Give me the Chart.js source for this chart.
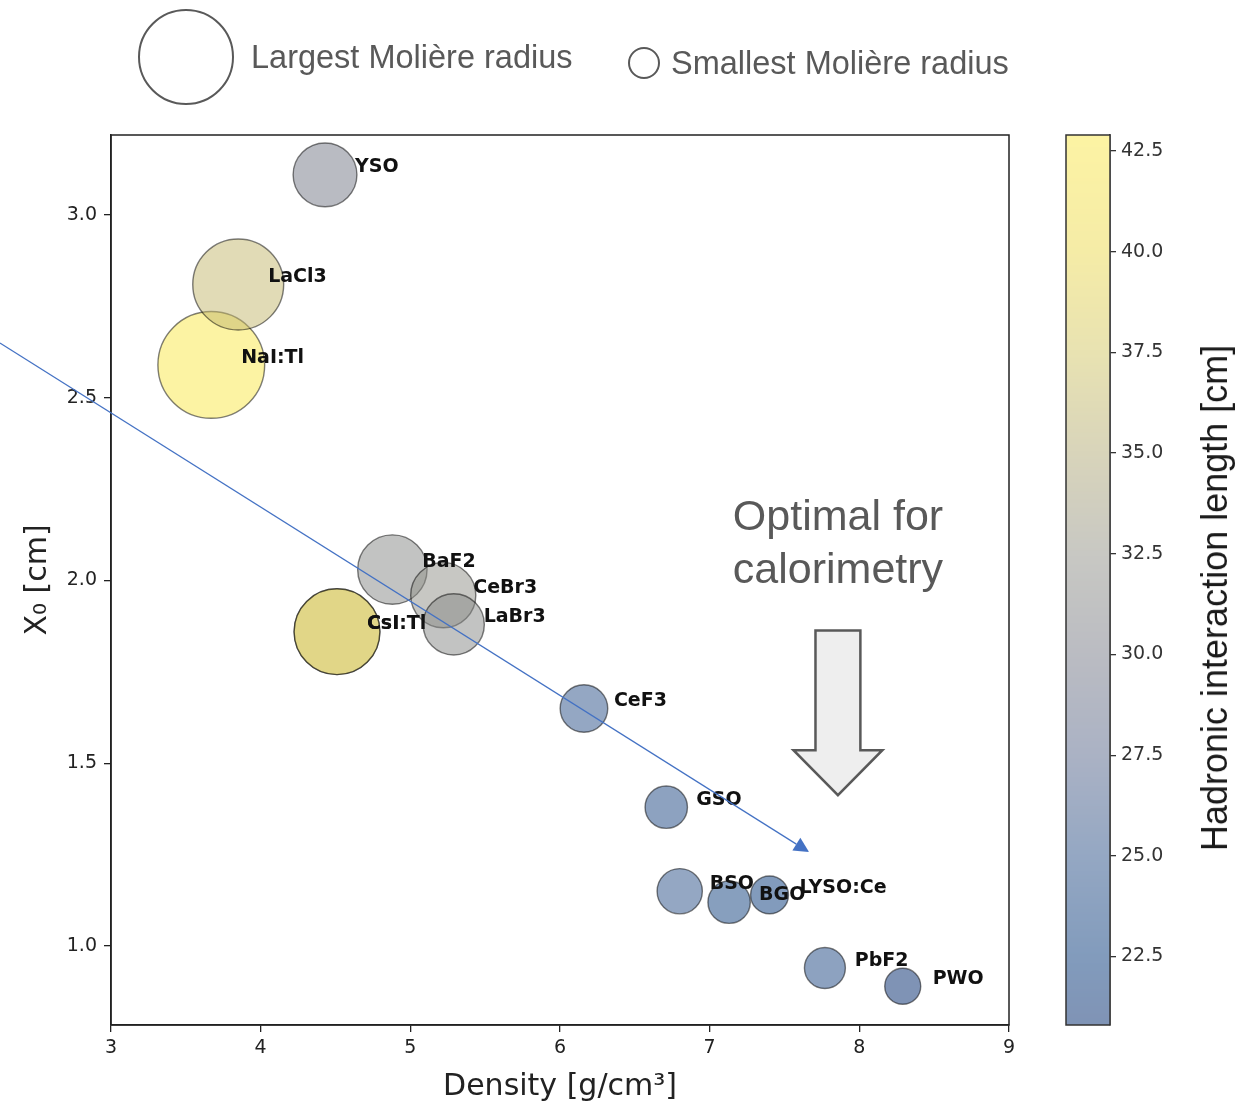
<!DOCTYPE html>
<html>
<head>
<meta charset="utf-8">
<title>Scintillator crystals: density vs radiation length</title>
<script src="https://cdn.jsdelivr.net/npm/chart.js@4.4.1/dist/chart.umd.min.js"></script>
<style>
  html, body { margin: 0; padding: 0; background: #fff; }
  #wrap { position: relative; width: 1248px; height: 1105px; overflow: hidden; }
  canvas { position: absolute; top: 0; }
  #main { left: 0; }
  #cbar { left: 1040px; }
  .note { position: absolute; font-family: "Liberation Sans", Arial, sans-serif; color: #595959; white-space: nowrap; }
  .ring { position: absolute; border: 2px solid #595959; border-radius: 50%; box-sizing: border-box; }
</style>
</head>
<body>
<div id="wrap">
  <canvas id="main" width="1248" height="1105" style="width:1248px;height:1105px"></canvas>
  <canvas id="cbar" width="208" height="1105" style="width:208px;height:1105px"></canvas>

  <!-- size key -->
  <div class="ring" style="left:138px;top:9px;width:96px;height:96px"></div>
  <div class="note" style="left:251px;top:41px;font-size:32.5px;line-height:32px">Largest Molière radius</div>
  <div class="ring" style="left:628px;top:47px;width:32px;height:32px"></div>
  <div class="note" style="left:671px;top:47px;font-size:32.5px;line-height:32px">Smallest Molière radius</div>

  <!-- callout -->
  <div class="note" style="left:688px;top:489px;width:300px;text-align:center;font-size:43px;line-height:53px">Optimal for<br>calorimetry</div>

  <!-- colour bar title -->
  <div class="note" style="left:1215px;top:598px;font-size:36px;line-height:36px;color:#1a1a1a;transform:translate(-50%,-50%) rotate(-90deg)">Hadronic interaction length [cm]</div>
</div>

<script>
// Crystal properties
const materials = ['NaI:Tl', 'LaCl3', 'YSO', 'CsI', 'CsI:Tl', 'BaF2', 'CeBr3', 'LaBr3', 'CeF3', 'GSO', 'BSO', 'BGO', 'LYSO:Ce', 'PbF2', 'PWO'];
const density   = [3.67, 3.85, 4.43, 4.51, 4.51, 4.88, 5.22, 5.29, 6.16, 6.71, 6.80, 7.13, 7.40, 7.77, 8.29];   // g/cm^3
const radLength = [2.59, 2.81, 3.11, 1.86, 1.86, 2.03, 1.96, 1.88, 1.65, 1.38, 1.15, 1.12, 1.14, 0.94, 0.89];   // X0 [cm]
const moliere   = [4.13, 3.71, 2.93, 3.57, 3.57, 3.10, 2.97, 2.85, 2.41, 2.23, 2.33, 2.23, 2.07, 2.18, 2.00];   // R_M [cm]
const hadLength = [42.9, 36.3, 29.8, 38.0, 38.0, 31.5, 32.3, 31.5, 25.0, 24.0, 25.0, 23.2, 22.5, 24.0, 20.8];   // lambda_I [cm]

// Axis ticks
const xTicks  = [3, 4, 5, 6, 7, 8, 9];
const yTicks  = [1.0, 1.5, 2.0, 2.5, 3.0];
const cbTicks = [22.5, 25.0, 27.5, 30.0, 32.5, 35.0, 37.5, 40.0, 42.5];

// Annotation geometry, in data units (Density, X0)
const trendArrow = { from: [2.258, 2.650], to: [7.664, 1.257] };
const blockArrow = { x: 7.857, top: 1.863, shoulder: 1.536, tip: 1.413, shaftHalf: 0.150, headHalf: 0.297 };

// Blue-grey-yellow colour map (position 0..1, opaque rgb); marks are drawn half transparent
const cmapPos = [0, 0.077, 0.19, 0.303, 0.416, 0.529, 0.643, 0.756, 0.869, 1];
const cmapRGB = [
  [0, 40, 108], [5, 56, 122], [42, 80, 135], [86, 101, 138], [118, 121, 133],
  [145, 145, 135], [178, 170, 118], [210, 198, 100], [236, 217, 78], [250, 232, 72]
];
const ALPHA = 0.5;
const cbMin = Math.min(...hadLength);
const cbMax = Math.max(...hadLength);

function cmap(t) {
  t = Math.max(0, Math.min(1, t));
  let k = 0;
  while (k < cmapPos.length - 2 && t > cmapPos[k + 1]) k++;
  const f = (t - cmapPos[k]) / (cmapPos[k + 1] - cmapPos[k]);
  return cmapRGB[k].map((c, j) => Math.round(c + f * (cmapRGB[k + 1][j] - c)));
}
function colourFor(v, a) {
  const [r, g, b] = cmap((v - cbMin) / (cbMax - cbMin));
  return `rgba(${r},${g},${b},${a})`;
}

const TEXT = '#222';

// crystal names beside each bubble
const crystalLabels = {
  id: 'crystalLabels',
  afterDatasetsDraw(chart) {
    const { ctx, scales: { x, y } } = chart;
    ctx.save();
    ctx.font = 'bold 19px "DejaVu Sans"';
    ctx.fillStyle = '#111';
    ctx.textAlign = 'left';
    ctx.textBaseline = 'middle';
    materials.forEach((m, i) => {
      ctx.fillText(m, x.getPixelForValue(density[i] + 0.2), y.getPixelForValue(radLength[i] + 0.02));
    });
    ctx.restore();
  }
};

// axes frame plus the overlaid arrows
const frameAndArrows = {
  id: 'frameAndArrows',
  afterDraw(chart) {
    const { ctx, chartArea: a, scales: { x, y } } = chart;
    ctx.save();
    ctx.strokeStyle = '#222';
    ctx.lineWidth = 1.5;
    ctx.strokeRect(a.left, a.top, a.right - a.left, a.bottom - a.top);

    // block arrow
    const cx = x.getPixelForValue(blockArrow.x);
    const sh = x.getPixelForValue(blockArrow.x + blockArrow.shaftHalf) - cx;
    const hh = x.getPixelForValue(blockArrow.x + blockArrow.headHalf) - cx;
    const yt = y.getPixelForValue(blockArrow.top);
    const ys = y.getPixelForValue(blockArrow.shoulder);
    const yp = y.getPixelForValue(blockArrow.tip);
    ctx.beginPath();
    ctx.moveTo(cx - sh, yt);
    ctx.lineTo(cx + sh, yt);
    ctx.lineTo(cx + sh, ys);
    ctx.lineTo(cx + hh, ys);
    ctx.lineTo(cx, yp);
    ctx.lineTo(cx - hh, ys);
    ctx.lineTo(cx - sh, ys);
    ctx.closePath();
    ctx.fillStyle = '#eeeeee';
    ctx.fill();
    ctx.strokeStyle = '#595959';
    ctx.lineWidth = 2.5;
    ctx.lineJoin = 'miter';
    ctx.stroke();

    // trend arrow
    const x0 = x.getPixelForValue(trendArrow.from[0]), y0 = y.getPixelForValue(trendArrow.from[1]);
    const x1 = x.getPixelForValue(trendArrow.to[0]),   y1 = y.getPixelForValue(trendArrow.to[1]);
    const ang = Math.atan2(y1 - y0, x1 - x0);
    const len = 15, half = 7.5;
    const bx = x1 - len * Math.cos(ang), by = y1 - len * Math.sin(ang);
    ctx.strokeStyle = '#4472C4';
    ctx.fillStyle = '#4472C4';
    ctx.lineWidth = 1.2;
    ctx.beginPath();
    ctx.moveTo(x0, y0);
    ctx.lineTo(bx, by);
    ctx.stroke();
    ctx.beginPath();
    ctx.moveTo(x1, y1);
    ctx.lineTo(bx + half * Math.sin(ang), by - half * Math.cos(ang));
    ctx.lineTo(bx - half * Math.sin(ang), by + half * Math.cos(ang));
    ctx.closePath();
    ctx.fill();
    ctx.restore();
  }
};

const tickFont = { family: 'DejaVu Sans', size: 19 };

new Chart(document.getElementById('main'), {
  type: 'bubble',
  data: {
    datasets: [{
      data: materials.map((m, i) => ({ x: density[i], y: radLength[i], r: 6.36 * Math.pow(moliere[i], 1.5) })),
      backgroundColor: hadLength.map(v => colourFor(v, ALPHA)),
      borderColor: 'rgba(0,0,0,0.5)',
      borderWidth: 1.4
    }]
  },
  options: {
    responsive: false,
    animation: false,
    events: [],
    layout: { padding: { left: 11, top: 135, right: 239, bottom: 0 } },
    plugins: { legend: { display: false }, tooltip: { enabled: false } },
    scales: {
      x: {
        type: 'linear', min: 3, max: 9,
        afterBuildTicks: s => { s.ticks = xTicks.map(v => ({ value: v })); },
        afterFit: s => { s.height = 80; },
        grid: { drawOnChartArea: false, drawTicks: true, tickLength: 7, color: TEXT, lineWidth: 1.3 },
        border: { display: true, color: TEXT, width: 1.5 },
        ticks: { padding: 5, color: TEXT, font: tickFont, maxRotation: 0, callback: v => String(v) },
        title: { display: true, text: 'Density [g/cm³]', color: TEXT, font: { family: 'DejaVu Sans', size: 30 }, padding: { top: 0, bottom: 0 } }
      },
      y: {
        type: 'linear', min: 0.784, max: 3.219,
        afterBuildTicks: s => { s.ticks = yTicks.map(v => ({ value: v })); },
        afterFit: s => { s.width = 100; },
        grid: { drawOnChartArea: false, drawTicks: true, tickLength: 7, color: TEXT, lineWidth: 1.3 },
        border: { display: true, color: TEXT, width: 1.5 },
        ticks: { padding: 7, color: TEXT, font: tickFont, callback: v => v.toFixed(1) },
        title: { display: true, text: 'X₀ [cm]', color: TEXT, font: { family: 'DejaVu Sans', size: 30 }, padding: { top: 9, bottom: 0 } }
      }
    }
  },
  plugins: [crystalLabels, frameAndArrows]
});

// colour bar
const colourBar = {
  id: 'colourBar',
  beforeDatasetsDraw(chart) {
    const { ctx, chartArea: a, scales: { y } } = chart;
    ctx.save();
    for (let py = Math.floor(a.top); py < a.bottom; py++) {
      ctx.fillStyle = '#fff';
      ctx.fillRect(a.left, py, a.right - a.left, 1);
      ctx.fillStyle = colourFor(y.getValueForPixel(py + 0.5), ALPHA);
      ctx.fillRect(a.left, py, a.right - a.left, 1);
    }
    ctx.strokeStyle = '#333';
    ctx.lineWidth = 1.5;
    ctx.strokeRect(a.left, a.top, a.right - a.left, a.bottom - a.top);
    ctx.restore();
  }
};

new Chart(document.getElementById('cbar'), {
  type: 'scatter',
  data: { datasets: [{ data: [] }] },
  options: {
    responsive: false,
    animation: false,
    events: [],
    layout: { padding: { left: 26, top: 135, right: 0, bottom: 80 } },
    plugins: { legend: { display: false }, tooltip: { enabled: false } },
    scales: {
      x: { display: false, min: 0, max: 1 },
      y: {
        position: 'right', min: cbMin, max: cbMax,
        afterBuildTicks: s => { s.ticks = cbTicks.map(v => ({ value: v })); },
        afterFit: s => { s.width = 138; },
        grid: { drawOnChartArea: false, drawTicks: true, tickLength: 6, color: '#333', lineWidth: 1.3 },
        border: { display: true, color: '#333', width: 1.5 },
        ticks: { padding: 5, color: '#333', font: tickFont, callback: v => v.toFixed(1) }
      }
    }
  },
  plugins: [colourBar]
});
</script>
</body>
</html>
